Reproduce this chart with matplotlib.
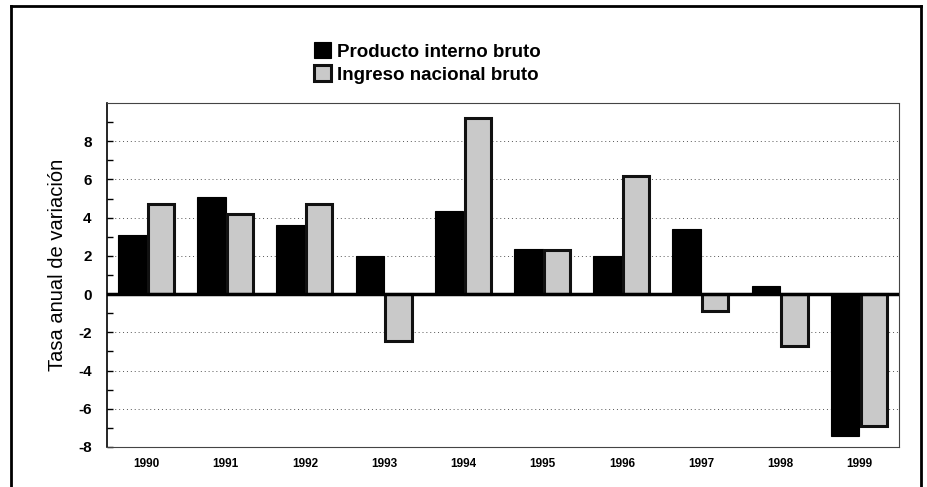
import matplotlib
matplotlib.use("Agg")
import matplotlib.pyplot as plt
from matplotlib.lines import Line2D
import numpy as np

years = ["1990", "1991", "1992", "1993", "1994", "1995", "1996", "1997", "1998", "1999"]
pib = [3.1, 5.1, 3.6, 2.0, 4.35, 2.35, 2.0, 3.4, 0.4, -7.4]
inb = [4.7, 4.2, 4.7, -2.45, 9.2, 2.3, 6.2, -0.9, -2.7, -6.9]
yticks = [-8, -6, -4, -2, 0, 2, 4, 6, 8]

plt.rcParams['font.family'] = ['Liberation Sans', 'DejaVu Sans']

fig = plt.figure(figsize=(9.28, 4.87), dpi=100)
ax = fig.add_axes([107/928, 1-447/487, (899-107)/928, (447-103)/487])

x = np.arange(len(years))
w = 0.36
ax.bar(x - w/2, pib, w, color='black', edgecolor='black', linewidth=0.8, zorder=3,
       label='Producto interno bruto')
ax.bar(x + w/2, inb, w*0.92, color='#c9c9c9', edgecolor='#111111', linewidth=2.2, zorder=3,
       label='Ingreso nacional bruto')

ax.set_xlim(-0.5, len(years) - 0.5)
ax.set_ylim(-8, 10)
ax.set_yticks(yticks)
ax.set_yticks(np.arange(-7, 10, 2), minor=True)
ax.set_xticks(x)
ax.set_xticklabels(years, fontsize=8.5, fontweight='bold')
ax.set_yticklabels([str(v) for v in yticks], fontsize=11, fontweight='bold')
ax.tick_params(axis='y', which='both', direction='in', length=4, width=1, pad=11)
ax.tick_params(axis='x', length=0, pad=8)

for v in [-6, -4, -2, 2, 4, 6, 8]:
    ax.axhline(v, color='#555555', linestyle=(0, (1, 3)), linewidth=0.7, zorder=1)
ax.axhline(0, color='black', linewidth=2.5, zorder=4)

ax.spines['left'].set_linewidth(1.2)
for s in ['top', 'right', 'bottom']:
    ax.spines[s].set_linestyle((0, (1, 1)))
    ax.spines[s].set_linewidth(0.8)
    ax.spines[s].set_color('#444444')

ax.set_ylabel('Tasa anual de variación', fontsize=14.5)
ax.yaxis.set_label_coords(-0.05, 0.53)

# legend
fig.legend(loc='upper left', bbox_to_anchor=(305/928, 1-33/487), frameon=False,
           prop={'weight': 'bold', 'size': 13.5}, handlelength=0.9,
           handleheight=0.9, handletextpad=0.3, labelspacing=0.25, borderpad=0)

# outer frame
fig.add_artist(Line2D([11/928, 11/928], [0, 1-6/487], transform=fig.transFigure, color='black', linewidth=2))
fig.add_artist(Line2D([11/928, 921/928], [1-6/487, 1-6/487], transform=fig.transFigure, color='black', linewidth=2))
fig.add_artist(Line2D([921/928, 921/928], [0, 1-6/487], transform=fig.transFigure, color='black', linewidth=2))

fig.savefig('out.png', dpi=100)
